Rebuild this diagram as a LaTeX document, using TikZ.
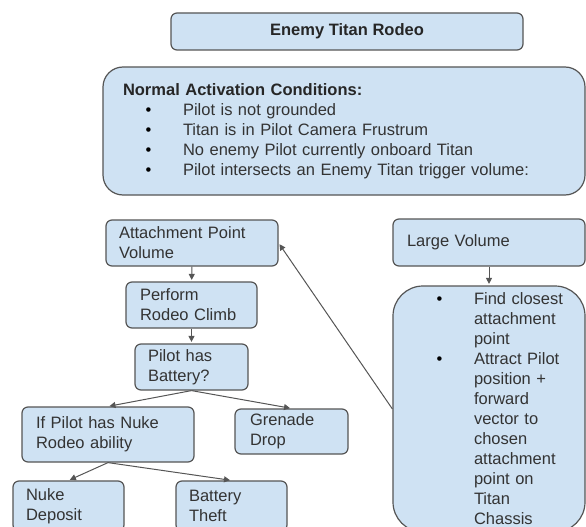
\documentclass[tikz,border=0pt]{standalone}
\usepackage{fontspec}
\setmainfont{Liberation Sans}
\usetikzlibrary{arrows.meta}

\definecolor{boxblue}{HTML}{CFE2F3}
\definecolor{edgegray}{HTML}{555555}
\definecolor{txtgray}{HTML}{333333}

\newcommand{\bullitem}[3]{\makebox[#2][l]{\hspace*{#1}{\color{black}\textbullet}}#3}
\newcommand{\wrapline}{\hspace*{67pt}}

\begin{document}
\begin{tikzpicture}[x=1pt, y=-1pt, >={Triangle[length=6pt, width=6pt]},
        box/.style={draw=edgegray, fill=boxblue, line width=1.2pt, rounded corners=6pt,
            text=txtgray, font=\fontsize{16.5}{20}\selectfont, align=left, inner ysep=0pt},
        link/.style={->, draw=edgegray, line width=1pt, shorten >=1.5pt}]

    \useasboundingbox (0,0) rectangle (586,527);
    \clip (0,0) rectangle (586,527);

    % --- title ---
    \node[box, align=center, text=black!85, font=\fontsize{16.5}{20}\selectfont\bfseries,
        minimum width=352pt, minimum height=37pt] (title) at (347,31.5) {Enemy Titan Rodeo};

    % --- activation conditions ---
    \node[box, rounded corners=20pt, text width=442pt, inner xsep=20pt, minimum height=128pt] (cond) at (344,131)
        {{\color{black!85}\textbf{Normal Activation Conditions:}}\\
         \bullitem{22.5pt}{60pt}{Pilot is not grounded}\\
         \bullitem{22.5pt}{60pt}{Titan is in Pilot Camera Frustrum}\\
         \bullitem{22.5pt}{60pt}{No enemy Pilot currently onboard Titan}\\
         \bullitem{22.5pt}{60pt}{Pilot intersects an Enemy Titan trigger volume:}};

    % --- left branch ---
    \node[box, text width=146pt, inner xsep=13pt, minimum height=46pt] (apv) at (192,243) {Attachment Point\\Volume};
    \node[box, text width=103pt, inner xsep=14pt, minimum height=46pt] (prc) at (191.5,305) {Perform\\Rodeo Climb};
    \node[box, text width=87pt, inner xsep=13pt, minimum height=46pt] (phb) at (191.5,367) {Pilot has\\Battery?};
    \node[box, text width=144pt, inner xsep=14pt, minimum height=55pt] (ifp) at (108,434.5) {If Pilot has Nuke\\Rodeo ability};
    \node[box, text width=83pt, inner xsep=15pt, minimum height=45pt] (gd) at (291.5,431.5) {Grenade\\Drop};
    \node[box, text width=85pt, inner xsep=13pt, minimum height=50pt] (nd) at (68.5,506) {Nuke\\Deposit};
    \node[box, text width=85pt, inner xsep=13pt, minimum height=50pt] (bt) at (231.5,506) {Battery\\Theft};

    % --- right branch ---
    \node[box, text width=164pt, inner xsep=14pt, minimum height=47pt] (lv) at (489,242.5) {Large Volume};
    \node[box, rounded corners=30pt, text width=164pt, inner xsep=14pt, minimum height=246pt] (big) at (489,409)
        {\bullitem{29.5pt}{67pt}{Find closest}\\
         \wrapline attachment\\
         \wrapline point\\
         \bullitem{29.5pt}{67pt}{Attract Pilot}\\
         \wrapline position +\\
         \wrapline forward\\
         \wrapline vector to\\
         \wrapline chosen\\
         \wrapline attachment\\
         \wrapline point on\\
         \wrapline Titan\\
         \wrapline Chassis};

    % --- connectors ---
    \draw[link] (apv) -- (prc);
    \draw[link] (prc) -- (phb);
    \draw[link] (phb.south) -- (ifp.north);
    \draw[link] (phb.south) -- (gd.north);
    \draw[link] (ifp.south) -- (nd.north);
    \draw[link] (ifp.south) -- (bt.north);
    \draw[link] (lv) -- (big);
    \draw[link] (big.west) -- (apv.east);

\end{tikzpicture}
\end{document}
